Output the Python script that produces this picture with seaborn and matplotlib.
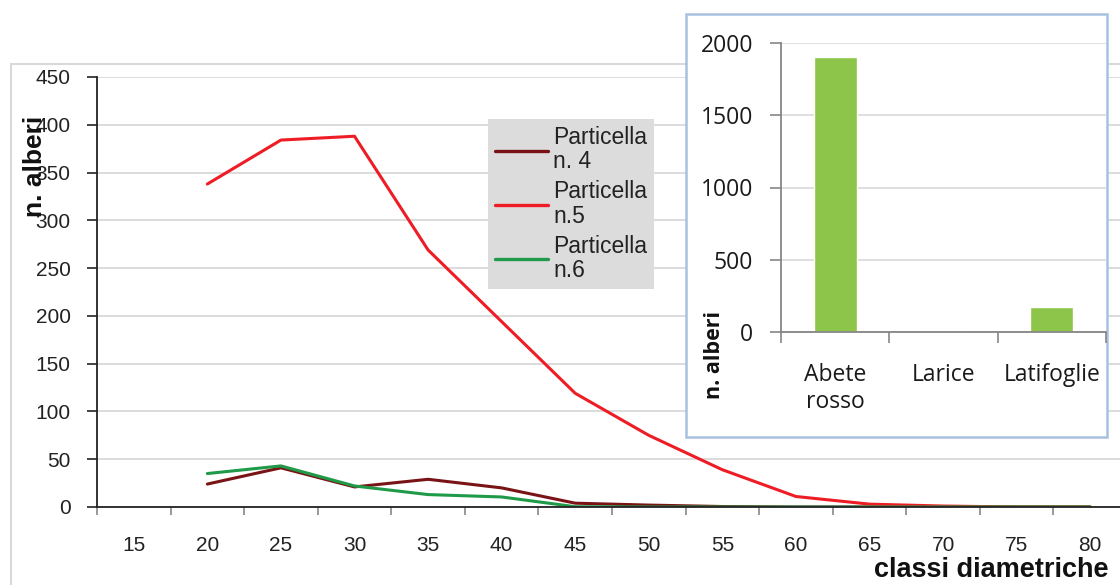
import numpy as np
import pandas as pd
import matplotlib
matplotlib.use("Agg")
import matplotlib.pyplot as plt
from matplotlib.patches import Rectangle
from matplotlib.lines import Line2D
import seaborn as sns

# ---- data ----
classes = [15, 20, 25, 30, 35, 40, 45, 50, 55, 60, 65, 70, 75, 80]
part4 = [np.nan, 24, 41, 21, 29, 20, 4, 2, 0.5, 0, 0, 0, 0, 0]
part5 = [np.nan, 338, 384, 388, 269, 194, 119, 75, 39, 11, 3, 1, 0, 0]
part6 = [np.nan, 35, 43, 22, 13, 10.5, 0.3, 0, 0, 0, 0, 0, 0, 0]
series_names = ["Particella\nn. 4", "Particella\nn.5", "Particella\nn.6"]
series_colors = ["#7a1315", "#ee1d25", "#1f9a48"]

species = ["Abete\nrosso", "Larice", "Latifoglie"]
species_counts = [1900, 0, 171]

y_ticks_main = [0, 50, 100, 150, 200, 250, 300, 350, 400, 450]
y_ticks_inset = [0, 500, 1000, 1500, 2000]

# ---- figure ----
W, H = 1120, 585
sns.set_theme(style="white")
plt.rcParams["font.family"] = ["Liberation Sans", "DejaVu Sans"]
fig = plt.figure(figsize=(W / 100, H / 100), dpi=100)
fig.patch.set_facecolor("white")

def fx(px):
    return px / W

def fy(py):
    return 1 - py / H

# outer frame
fig.patches.append(Rectangle((fx(11), fy(1200)), 2.0, fy(64) - fy(1200), transform=fig.transFigure,
                             facecolor="none", edgecolor="#d9d9d9", lw=1.5, zorder=-1))

# ---- main axes ----
ax = fig.add_axes([fx(97), fy(507), fx(1127) - fx(97), fy(77) - fy(507)])
ax.set_zorder(0)
ax.patch.set_alpha(0)

rows = []
for name, vals in zip(series_names, [part4, part5, part6]):
    for c, v in zip(classes, vals):
        rows.append({"classe": c, "n": v, "serie": name})
df = pd.DataFrame(rows)

sns.lineplot(data=df, x="classe", y="n", hue="serie", palette=dict(zip(series_names, series_colors)),
             linewidth=2.2, ax=ax, legend=False, estimator=None, sort=False)

ax.set_xlim(classes[0] - 2.5, classes[-1] + 2.5)
ax.set_ylim(0, 450)
ax.set_yticks(y_ticks_main)
ax.set_xticks(classes)
ax.set_xticks([c - 2.5 for c in classes] + [classes[-1] + 2.5], minor=True)
ax.grid(axis="y", color="#d9d9d9", lw=1.3)
ax.set_axisbelow(True)
for s in ["top", "right"]:
    ax.spines[s].set_visible(False)
ax.spines["left"].set_color("#222222")
ax.spines["bottom"].set_color("#222222")
ax.spines["left"].set_linewidth(1.3)
ax.spines["bottom"].set_linewidth(1.3)
ax.tick_params(axis="y", which="major", left=True, length=7, width=1.2, color="#222222",
               labelsize=15, pad=12, labelcolor="#222222")
ax.tick_params(axis="x", which="major", bottom=False, length=0, labelsize=15, pad=21,
               labelcolor="#222222")
ax.tick_params(axis="x", which="minor", bottom=True, length=6, width=1.2, color="#888888")
ax.set_xlabel("")
ax.set_ylabel("")

handles = [Line2D([], [], color=c, lw=2.4) for c in series_colors]
leg = ax.legend(handles, series_names, loc="upper left", bbox_to_anchor=(fx(488), fy(119)),
                bbox_transform=fig.transFigure, borderaxespad=0, frameon=True, fancybox=False,
                facecolor="#dcdcdc", edgecolor="none", framealpha=1, fontsize=16.5,
                handlelength=2.3, handletextpad=0.25, labelspacing=0.3, borderpad=0.3)
for t in leg.get_texts():
    t.set_color("#222222")
    t.set_linespacing(1.08)

fig.text(fx(35), fy(166), "n. alberi", rotation=90, ha="center", va="center",
         fontsize=19, fontweight="bold", color="#111111")
fig.text(fx(1109), fy(570), "classi diametriche", ha="right", va="center",
         fontsize=19.5, fontweight="bold", color="#111111")

# ---- inset ----
fig.patches.append(Rectangle((fx(686), fy(437)), fx(1107) - fx(686), fy(14) - fy(437),
                             transform=fig.transFigure, facecolor="white",
                             edgecolor="#a9c1e0", lw=1.8, zorder=1))

ax2 = fig.add_axes([fx(781), fy(332), fx(1106) - fx(781), fy(43) - fy(332)])
ax2.set_zorder(2)
ax2.patch.set_alpha(0)
sdf = pd.DataFrame({"specie": species, "n": species_counts})
sns.barplot(data=sdf, x="specie", y="n", color="#8dc54a", saturation=1, width=0.4, ax=ax2)
ax2.set_ylim(0, 2000)
ax2.set_xlim(-0.5, 2.5)
ax2.set_yticks(y_ticks_inset)
ax2.set_xticks([-0.5, 0.5, 1.5, 2.5], minor=True)
ax2.grid(axis="y", color="#d9d9d9", lw=1.2)
ax2.set_axisbelow(True)
ax2.spines["top"].set_visible(False)
ax2.spines["right"].set_visible(False)
for s in ["left", "bottom"]:
    ax2.spines[s].set_color("#868686")
    ax2.spines[s].set_linewidth(1.3)
ax2.tick_params(axis="y", which="major", left=True, length=8, width=1.2, color="#868686",
                labelsize=16.5, pad=12, labelcolor="#1a1a1a")
ax2.tick_params(axis="x", which="major", bottom=False, length=0, labelsize=16.5, pad=22,
                labelcolor="#1a1a1a")
ax2.tick_params(axis="x", which="minor", bottom=True, length=8, width=1.2, color="#868686")
for lab in ax2.get_xticklabels() + ax2.get_yticklabels():
    lab.set_fontfamily(["Open Sans", "DejaVu Sans"])
for lab in ax2.get_xticklabels():
    lab.set_va("top")
    lab.set_linespacing(1.2)
ax2.set_xlabel("")
ax2.set_ylabel("")
fig.text(fx(715), fy(355), "n. alberi", rotation=90, ha="center", va="center",
         fontsize=15.5, fontweight="bold", color="#111111", family=["Open Sans", "DejaVu Sans"],
         zorder=3)

fig.savefig("out.png", dpi=100)
